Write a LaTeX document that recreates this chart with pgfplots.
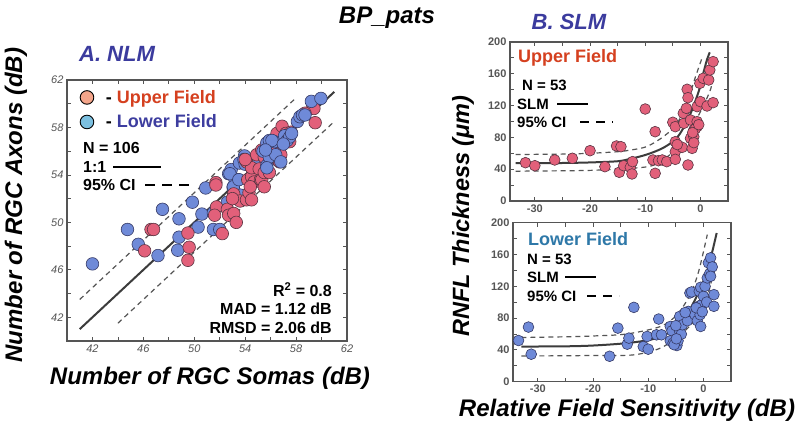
\documentclass[border=0pt]{standalone}
\usepackage{pgfplots}
\pgfplotsset{compat=1.18}
\usepackage{fontspec}
\setmainfont{Liberation Sans}
\definecolor{axgray}{HTML}{555555}
\definecolor{fitgray}{HTML}{3C3C3C}
\definecolor{ptred}{HTML}{E2607A}
\definecolor{ptreded}{HTML}{5A3442}
\definecolor{ptblue}{HTML}{6F8AD8}
\definecolor{ptblueed}{HTML}{363A66}
\definecolor{legsalmon}{HTML}{F4A58A}
\definecolor{leglblue}{HTML}{7CC0E0}
\definecolor{uptext}{HTML}{D5401F}
\definecolor{lowtextA}{HTML}{3D3D9F}
\definecolor{lowtextB}{HTML}{2E78A8}
\definecolor{titleblue}{HTML}{3B3B9E}
\pgfplotsset{
  commonax/.style={scale only axis, anchor=south west,
    tick align=inside, major tick length=4bp, minor tick length=4bp,
    axis line style={draw=axgray, line width=1.2bp},
    tick style={draw=axgray, line width=0.8bp},
    /pgf/number format/assume math mode=true,
    axis background/.style={fill=white}},
  redpts/.style={only marks, mark=*, mark size=#1, mark options={fill=ptred, draw=ptreded, line width=0.6bp}, forget plot},
  bluepts/.style={only marks, mark=*, mark size=#1, mark options={fill=ptblue, draw=ptblueed, line width=0.6bp}, forget plot},
  fitline/.style={draw=fitgray, line width=2bp, forget plot, smooth},
  ciline/.style={draw=axgray, line width=1.2bp, dash pattern=on 5bp off 4bp, forget plot, smooth},
}
\newcommand{\bfs}[1]{\fontsize{#1}{#1}\selectfont\bfseries}
\begin{document}
\begin{tikzpicture}[x=1bp,y=1bp]
\path[use as bounding box] (0bp,0bp) rectangle (800bp,431bp);

% ---------------- Panel A ----------------
\begin{axis}[commonax,
  at={(67bp,90bp)}, width=280bp, height=261bp,
  xmin=40, xmax=62, ymin=40, ymax=62,
  xtick={42,46,...,62}, ytick={42,46,...,62},
  minor xtick={44,48,...,60}, minor ytick={44,48,...,60},
  ticklabel style={font=\fontsize{11bp}{11bp}\selectfont\itshape, text=axgray},
  legend style={at={(0,1)}, anchor=north west, draw=none, fill=none,
    font=\bfs{18bp}, row sep=6bp, xshift=10bp, yshift=-6bp},
  legend cell align=left,
]
\addlegendimage{only marks, mark=*, mark size=6.8bp, mark options={fill=legsalmon, draw=black, line width=0.9bp}}
\addlegendentry{\hspace{10bp}- \textcolor{uptext}{Upper Field}}
\addlegendimage{only marks, mark=*, mark size=6.8bp, mark options={fill=leglblue, draw=black, line width=0.9bp}}
\addlegendentry{\hspace{10bp}- \textcolor{lowtextA}{Lower Field}}

\addplot[fitline] coordinates {(41,41) (61,61)};
\addplot[ciline] coordinates {(41,43.5) (58,60.5)};
\addplot[ciline] coordinates {(44,41.5) (61,58.5)};

% lower field (part drawn beneath the upper-field points)
\addplot[bluepts=6.3bp] coordinates {
(42.0,46.5) (44.75,49.4) (45.6,48.15) (47.5,51.1) (47.15,47.2) (48.8,50.3)
(48.8,48.75) (48.7,47.65) (49.85,51.7) (50.3,49.6) (50.6,50.7) (50.9,52.9)
(51.5,50.8) (51.5,49.4) (52.0,49.4) (52.6,51.7) (53.05,52.95) (52.7,54.1)
(52.9,54.45) (53.4,53.6) (53.6,52.3) (53.55,55.0) (53.95,55.6) (54.8,55.3)
(53.9,55.3) (53.2,53.6) (53.07,53.0) (52.8,54.1) (55.2,55.9)
(53.5,53.6) (54.0,54.9)
};
% upper field
\addplot[redpts=6.3bp] coordinates {
(46.1,47.6) (46.6,49.4) (46.8,49.4) (49.5,49.1) (49.6,47.9) (49.5,46.8)
(51.7,53.35) (51.7,53.15) (51.75,51.3) (51.6,50.6) (52.2,49.05) (52.6,51.1)
(52.7,50.6) (53.1,50.75) (53.3,50.0) (53.1,52.4) (53.6,51.8) (54.1,51.9)
(54.3,52.5) (54.5,51.9) (54.1,55.1) (54.2,53.6) (54.5,53.85) (54.7,53.4)
(54.5,54.6) (54.4,53.0) (55.1,54.5) (55.2,53.6) (55.3,53.6) (55.5,53.0)
(55.5,54.2) (54.9,55.7) (55.3,56.1) (55.5,55.5) (56.0,56.2) (56.3,56.2)
(56.4,56.9) (56.5,55.3) (56.8,55.7) (56.7,55.1) (56.5,57.5) (56.9,58.1)
(57.2,57.5) (57.5,56.8) (57.6,57.6) (59.3,59.9) (59.5,58.4) (59.4,59.6)
(58.7,59.2) (54.0,55.3) (55.9,54.2) (56.2,55.9) (53.0,52.0)
};
% lower field (part drawn on top)
\addplot[bluepts=6.3bp] coordinates {
(55.7,54.8) (55.4,56.0) (55.7,56.7) (55.9,55.5) (55.9,56.9)
(56.3,56.8) (56.4,55.7) (56.8,55.1) (57.1,57.3) (57.3,56.9) (57.5,57.2)
(57.65,57.5) (58.1,58.5) (58.3,58.9) (58.5,59.05) (58.7,59.05)
(56.1,56.9) (57.0,56.6) (55.7,54.6) (55.6,56.1) (59.2,60.2) (59.95,60.45)
};
\end{axis}

% Panel A annotations
\node[anchor=west, inner sep=0, font=\bfs{16bp}] at (83bp,283bp) {N = 106};
\node[anchor=west, inner sep=0, font=\bfs{16bp}] at (83bp,264bp) {1:1};
\draw[black, line width=2.5bp] (113bp,264bp) -- (161bp,264bp);
\node[anchor=west, inner sep=0, font=\bfs{16bp}] at (83bp,246bp) {95\% CI};
\draw[black, line width=2.5bp, dash pattern=on 10bp off 7bp] (145bp,246bp) -- (194bp,246bp);
\node[anchor=east, inner sep=0, font=\bfs{16bp}] at (332bp,141bp) {R\textsuperscript{2} = 0.8};
\node[anchor=east, inner sep=0, font=\bfs{16bp}] at (332bp,122bp) {MAD = 1.12 dB};
\node[anchor=east, inner sep=0, font=\bfs{16bp}] at (332bp,103bp) {RMSD = 2.06 dB};

\node[font=\fontsize{22bp}{22bp}\selectfont\bfseries\itshape, text=titleblue] at (117bp,377bp) {A. NLM};
\node[rotate=90, font=\fontsize{24bp}{24bp}\selectfont\bfseries\itshape] at (16bp,226bp) {Number of RGC Axons (dB)};
\node[font=\fontsize{24bp}{24bp}\selectfont\bfseries\itshape] at (210bp,53bp) {Number of RGC Somas (dB)};
\node[font=\fontsize{24bp}{24bp}\selectfont\bfseries\itshape] at (387bp,413bp) {BP\_pats};

% ---------------- Panel B upper ----------------
\begin{axis}[commonax,
  at={(510bp,230bp)}, width=218bp, height=159bp,
  xmin=-34.5, xmax=5, ymin=0, ymax=200,
  xtick={-30,-20,-10,0}, minor xtick={-25,-15,-5},
  ytick={0,40,...,200}, minor ytick={20,60,...,180},
  ticklabel style={font=\fontsize{11bp}{11bp}\selectfont\bfseries, text=axgray},
]
\addplot[fitline] coordinates {(-33.5,47.5) (-25,47.8) (-20,48.5) (-15,50) (-12.7,53) (-9.7,58.5) (-6.7,67) (-4.2,80) (-2.1,105) (-0.3,138) (0.5,160) (1.2,178) (1.7,187)};
\addplot[ciline] coordinates {(-33.5,58.5) (-25,59) (-20,60) (-15,62) (-12.7,64) (-9.7,68.5) (-6.7,81) (-4.2,97.7) (-2.1,131) (-0.9,156) (0.3,180)};
\addplot[ciline] coordinates {(-33.5,37.5) (-25,38) (-20,38.5) (-15,40) (-12.7,41) (-8.5,45) (-4.85,62) (-2.4,81) (-0.6,104) (1.8,139.6) (2.5,165)};
\addplot[redpts=5.4bp] coordinates {
(-31.7,48.2) (-30.0,44.4) (-26.4,51.6) (-23.2,53.7) (-20.0,63.3) (-17.3,43.2)
(-15.2,69.2) (-14.4,68.3) (-14.7,36.1) (-13.9,44.4) (-12.7,42.4) (-12.3,49.5)
(-12.4,34.0) (-10.0,115.7) (-8.6,51.6) (-8.2,87.2) (-8.2,34.8) (-7.6,50.7)
(-6.9,51.6) (-6.1,49.5) (-5.0,99.0) (-4.55,93.5) (-4.55,74.6) (-4.55,62.0)
(-4.55,52.4) (-3.3,67.5) (-3.0,97.7) (-3.1,110.3) (-2.55,116.6) (-2.4,140.5)
(-2.25,130.0) (-2.25,45.3) (-1.8,78.8) (-1.5,66.2) (-1.8,101.9) (-1.2,80.9)
(-1.2,73.4) (-1.2,89.3) (-0.6,93.5) (-0.6,118.7) (-0.6,99.8) (-0.1,148.0)
(0.0,125.0) (0.5,154.3) (1.2,119.5) (1.5,152.2) (1.7,164.8) (2.3,175.3)
(2.3,123.7) (-0.9,91.0) (-1.4,86.0) (-4.2,71.0) (-0.3,96.0)
};
\end{axis}
\node[anchor=west, inner sep=0, font=\bfs{18bp}, text=uptext] at (518bp,373bp) {Upper Field};
\node[anchor=west, inner sep=0, font=\bfs{15bp}] at (522bp,346bp) {N = 53};
\node[anchor=west, inner sep=0, font=\bfs{15bp}] at (517bp,327bp) {SLM};
\draw[black, line width=2.2bp] (557bp,327bp) -- (588bp,327bp);
\node[anchor=west, inner sep=0, font=\bfs{15bp}] at (517bp,309bp) {95\% CI};
\draw[black, line width=2.2bp, dash pattern=on 9bp off 7bp] (580bp,309bp) -- (613bp,309bp);

% ---------------- Panel B lower ----------------
\begin{axis}[commonax,
  at={(513bp,49.3bp)}, width=218bp, height=159bp,
  xmin=-34.5, xmax=5, ymin=0, ymax=200,
  xtick={-30,-20,-10,0}, minor xtick={-25,-15,-5},
  ytick={0,40,...,200}, minor ytick={20,60,...,180},
  ticklabel style={font=\fontsize{11bp}{11bp}\selectfont\bfseries, text=axgray},
]
\addplot[fitline] coordinates {(-33,44.2) (-25,44.5) (-20,45.5) (-13.9,48.5) (-9.0,53.9) (-5.4,65.3) (-3.0,84.2) (-0.5,118) (1.0,147) (2.4,187)};
\addplot[ciline] coordinates {(-33,55.6) (-25,56.5) (-20,57.5) (-13.9,60) (-7.8,69.4) (-4.8,84.2) (-2.4,109.5) (-0.85,139) (0.7,185)};
\addplot[ciline] coordinates {(-33,32.4) (-25,32.6) (-20,33) (-12.7,33.7) (-7.8,42.2) (-4.2,59) (-1.75,75.8) (0.4,101) (1.6,130.5) (2.2,150)};
\addplot[bluepts=5.4bp] coordinates {
(-33.5,51.8) (-31.7,68.7) (-31.2,34.6) (-17.0,32.0) (-15.5,67.4) (-12.6,93.5)
(-13.8,47.2) (-13.5,54.8) (-10.9,44.2) (-10.0,40.9) (-10.2,56.9) (-8.1,78.8)
(-8.5,59.0) (-7.6,59.0) (-6.0,69.5) (-5.7,64.0) (-6.0,51.4) (-5.5,48.5)
(-4.8,45.5) (-4.6,51.4) (-4.3,63.2) (-4.3,82.1) (-4.0,59.8) (-3.8,71.6)
(-2.9,76.7) (-2.75,88.4) (-2.45,111.6) (-2.15,112.9) (-1.55,84.2) (-1.1,76.7)
(-0.9,94.8) (-0.75,113.7) (-0.5,118.8) (-0.6,84.2) (-0.5,69.5) (-0.3,96.9)
(0.0,107.4) (0.6,100.2) (0.3,120.0) (0.7,130.5) (0.9,149.5) (1.1,135.6)
(1.3,155.8) (1.6,144.4) (1.9,109.5) (1.9,94.8) (1.3,132.6) (-5.3,46.5)
(-4.9,54.0) (-3.3,87.0) (-1.3,93.0) (-0.2,88.0) (-5.0,70.5)
};
\end{axis}
\node[anchor=west, inner sep=0, font=\bfs{18bp}, text=lowtextB] at (528bp,192bp) {Lower Field};
\node[anchor=west, inner sep=0, font=\bfs{15bp}] at (527bp,172bp) {N = 53};
\node[anchor=west, inner sep=0, font=\bfs{15bp}] at (527bp,154bp) {SLM};
\draw[black, line width=2.2bp] (565bp,154bp) -- (596bp,154bp);
\node[anchor=west, inner sep=0, font=\bfs{15bp}] at (527bp,135bp) {95\% CI};
\draw[black, line width=2.2bp, dash pattern=on 9bp off 7bp] (587bp,135bp) -- (619bp,135bp);

\node[font=\fontsize{22bp}{22bp}\selectfont\bfseries\itshape, text=titleblue] at (569bp,409bp) {B. SLM};
\node[rotate=90, font=\fontsize{23.5bp}{23.5bp}\selectfont\bfseries\itshape] at (463bp,215bp) {RNFL Thickness (μm)};
\node[font=\fontsize{24bp}{24bp}\selectfont\bfseries\itshape] at (627bp,21bp) {Relative Field Sensitivity (dB)};
\end{tikzpicture}
\end{document}
